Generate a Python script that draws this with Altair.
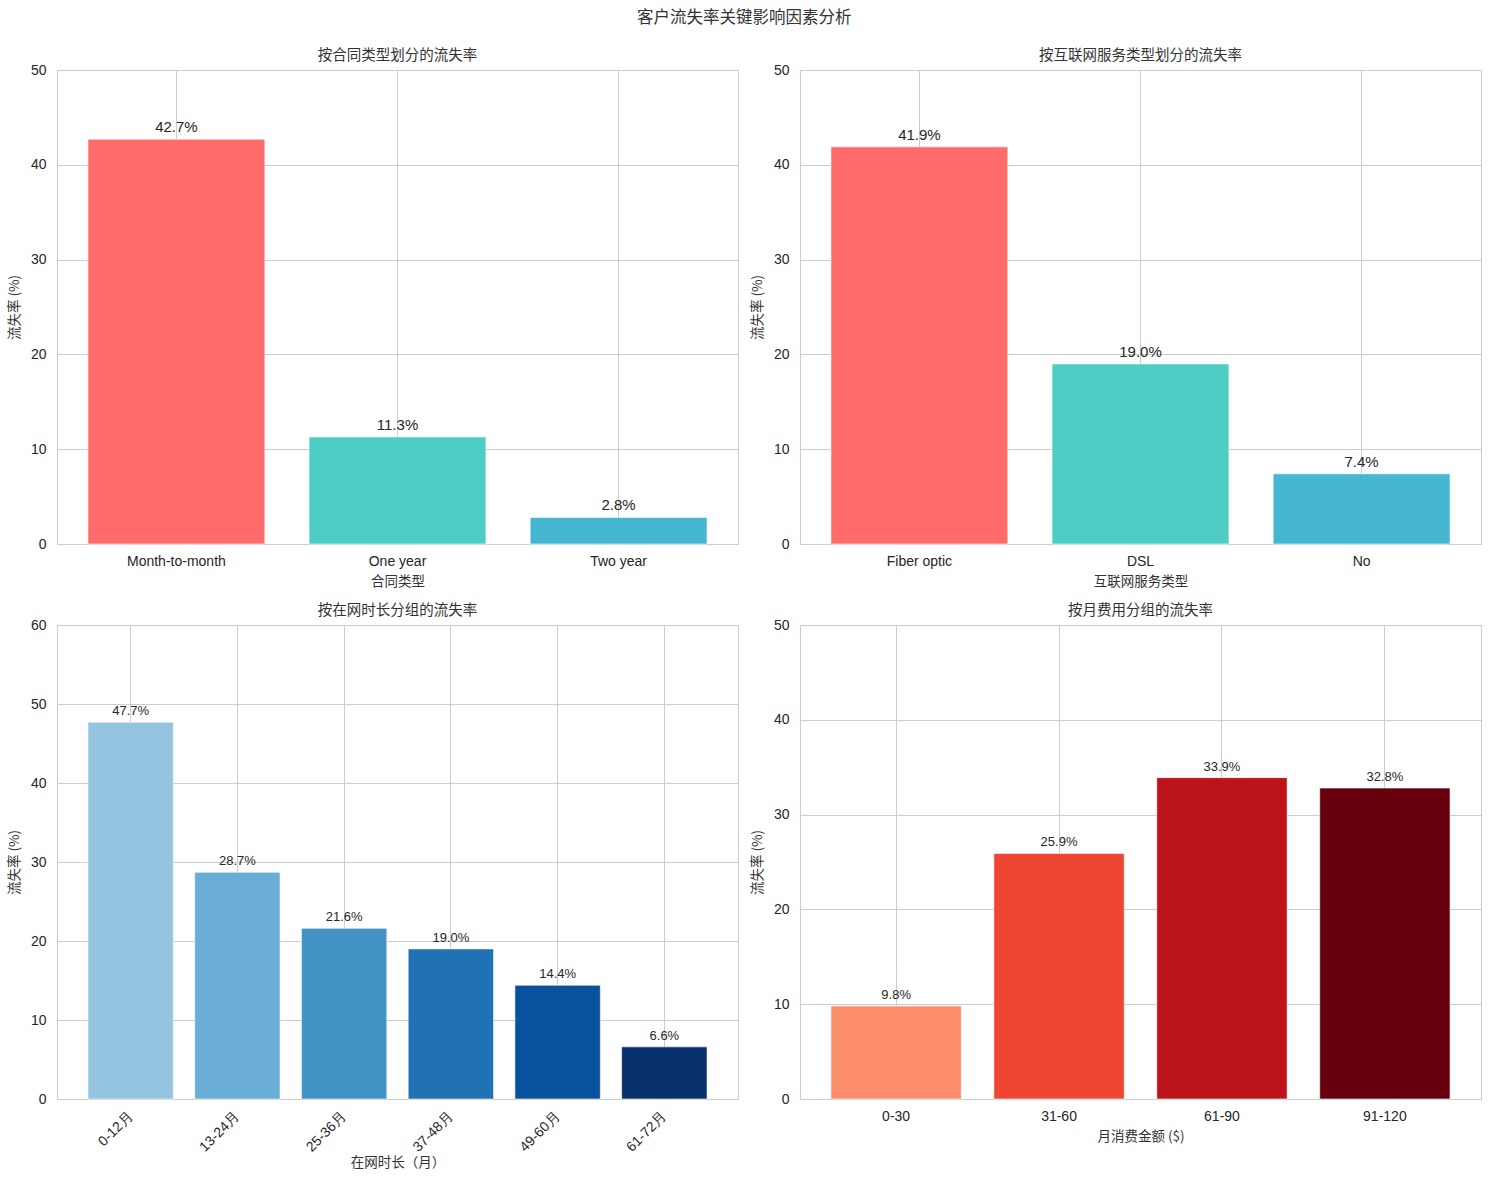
import altair as alt
import pandas as pd

# ---- data ----
contract_types = ["Month-to-month", "One year", "Two year"]
contract_rates = [42.7, 11.3, 2.8]
contract_colors = ["#FF6B6B", "#4ECDC4", "#45B7D1"]

internet_types = ["Fiber optic", "DSL", "No"]
internet_rates = [41.9, 19.0, 7.4]
internet_colors = ["#FF6B6B", "#4ECDC4", "#45B7D1"]

tenure_groups = ["0-12月", "13-24月", "25-36月", "37-48月", "49-60月", "61-72月"]
tenure_rates = [47.7, 28.7, 21.6, 19.0, 14.4, 6.6]
tenure_colors = ["#94c4df", "#6aaed6", "#4292c6", "#2171b5", "#08519c", "#08306b"]

charge_groups = ["0-30", "31-60", "61-90", "91-120"]
charge_rates = [9.8, 25.9, 33.9, 32.8]
charge_colors = ["#fc8d6a", "#ef4533", "#bc141a", "#67000d"]

main_title = "客户流失率关键影响因素分析"
titles = ["按合同类型划分的流失率", "按互联网服务类型划分的流失率", "按在网时长分组的流失率", "按月费用分组的流失率"]
xtitles = ["合同类型", "互联网服务类型", "在网时长（月）", "月消费金额 ($)"]
ytitle = "流失率 (%)"

CJK = "Noto Sans CJK SC"
LAT = "Liberation Sans"
W, H = 681, 474


def panel(cats, vals, colors, title, xtitle, ymax, label_size, rotate=False):
    df = pd.DataFrame({"cat": cats, "rate": vals,
                       "label": [f"{v:.1f}%" for v in vals]})
    n = len(cats)
    xaxis = alt.Axis(
        bandPosition=0.5, grid=True, labelAngle=-45 if rotate else 0,
        labelAlign="right" if rotate else "center",
        labelBaseline="middle" if rotate else "top",
        labelPadding=15 if rotate else 10, titlePadding=1 if rotate else 6,
    )
    x = alt.X("cat:N", sort=cats, title=xtitle,
              scale=alt.Scale(paddingInner=0.2, paddingOuter=0.05 * (n - 0.2)),
              axis=xaxis)
    y = alt.Y("rate:Q", title=ytitle,
              scale=alt.Scale(domain=[0, ymax], nice=False, zero=True),
              axis=alt.Axis(values=list(range(0, ymax + 1, 10)),
                            labelPadding=11, titlePadding=9))
    base = alt.Chart(df)
    bars = base.mark_bar(stroke="white", strokeWidth=0.6).encode(
        x=x, y=y,
        color=alt.Color("cat:N", scale=alt.Scale(domain=cats, range=colors), legend=None),
    )
    text = base.mark_text(baseline="bottom", dy=-4, fontSize=label_size,
                          font=LAT, color="#262626").encode(x=x, y=y, text="label")
    return alt.layer(bars, text).properties(
        width=W, height=H,
        title=alt.TitleParams(title, font=CJK, fontSize=14.5, fontWeight="normal",
                              color="#333333", offset=0),
    )


p1 = panel(contract_types, contract_rates, contract_colors, titles[0], xtitles[0], 50, 15)
p2 = panel(internet_types, internet_rates, internet_colors, titles[1], xtitles[1], 50, 15)
p3 = panel(tenure_groups, tenure_rates, tenure_colors, titles[2], xtitles[2], 60, 13, rotate=True)
p4 = panel(charge_groups, charge_rates, charge_colors, titles[3], xtitles[3], 50, 13)

row1 = alt.hconcat(p1, p2, spacing=10).resolve_scale(color="independent")
row2 = alt.hconcat(p3, p4, spacing=10).resolve_scale(color="independent")

chart = alt.vconcat(row1, row2, spacing=14).resolve_scale(
    color="independent"
).properties(
    title=alt.TitleParams(main_title, font=CJK, fontSize=16.5, fontWeight="normal",
                          color="#333333", anchor="middle", offset=21),
    padding={"left": 6, "top": 9, "right": 5, "bottom": 5},
).configure_view(
    stroke="#cccccc", strokeWidth=1
).configure_axis(
    domain=False, ticks=False, gridColor="#cccccc", gridWidth=1,
    labelFont=LAT, labelFontSize=14, labelColor="#262626",
    titleFont=CJK, titleFontSize=13.5, titleFontWeight="normal", titleColor="#333333",
)

chart.save("out.html", embed_options={"renderer": "svg", "actions": False})
